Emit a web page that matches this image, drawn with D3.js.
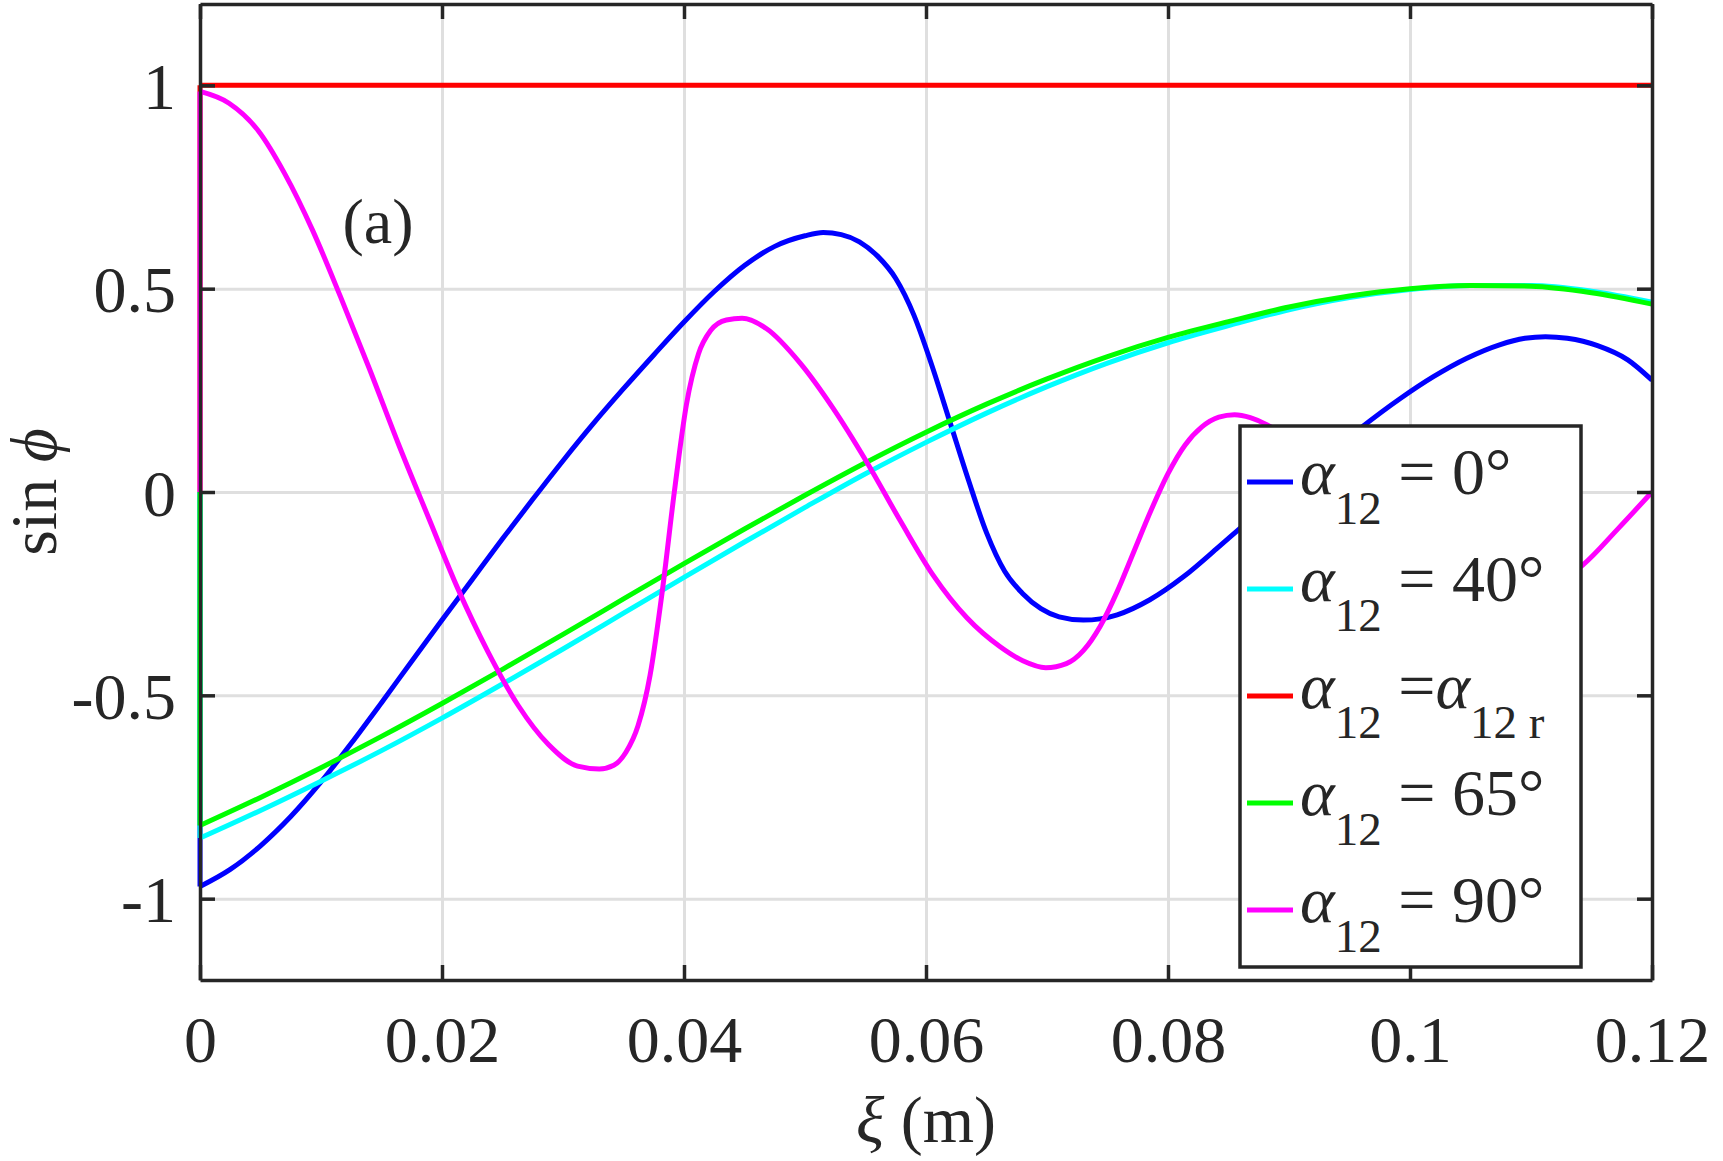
<!DOCTYPE html>
<html>
<head>
<meta charset="utf-8">
<script src="https://cdn.jsdelivr.net/npm/d3@7"></script>
<style>
  body { margin: 0; background: #fff; }
  svg { display: block; }
  text { font-family: "Liberation Serif", "Times New Roman", serif; fill: #262626; white-space: pre; }
</style>
</head>
<body>
<svg id="chart" width="1723" height="1161"></svg>
<script>
// tick values / labels
const xTicks = [0, 0.02, 0.04, 0.06, 0.08, 0.1, 0.12];
const xTickLabels = ['0', '0.02', '0.04', '0.06', '0.08', '0.1', '0.12'];
const yTicks = [-1, -0.5, 0, 0.5, 1];
const yTickLabels = ['-1', '-0.5', '0', '0.5', '1'];

// series, [xi (m), sin phi]; every curve starts from 0 at xi = 0
const alpha0 = [[0, 0], [0, -0.97], [0.0025, -0.928], [0.005, -0.87], [0.0075, -0.798], [0.01, -0.713],
  [0.0125, -0.618], [0.015, -0.518], [0.0175, -0.416], [0.02, -0.315], [0.0225, -0.215], [0.025, -0.115],
  [0.0275, -0.018], [0.03, 0.077], [0.0325, 0.168], [0.035, 0.254], [0.0375, 0.337], [0.04, 0.418],
  [0.0425, 0.493], [0.045, 0.557], [0.0475, 0.604], [0.05, 0.63], [0.0515, 0.638], [0.053, 0.633],
  [0.0545, 0.615], [0.056, 0.58], [0.0575, 0.525], [0.059, 0.435], [0.0605, 0.31], [0.062, 0.17],
  [0.0635, 0.03], [0.065, -0.1], [0.0665, -0.195], [0.068, -0.25], [0.0695, -0.287], [0.071, -0.307],
  [0.073, -0.315], [0.0744, -0.312], [0.0758, -0.302], [0.0785, -0.265], [0.0813, -0.208], [0.084, -0.14],
  [0.086, -0.088], [0.089, -0.012], [0.0925, 0.075], [0.0959, 0.157], [0.0992, 0.23], [0.1019, 0.283],
  [0.1047, 0.329], [0.1074, 0.362], [0.1095, 0.378], [0.1112, 0.382], [0.113, 0.378], [0.1155, 0.36],
  [0.118, 0.325], [0.12, 0.275]];
const alpha40 = [[0, 0], [0, -0.851], [0.005, -0.783], [0.01, -0.711], [0.015, -0.636], [0.02, -0.556],
  [0.025, -0.472], [0.03, -0.386], [0.035, -0.298], [0.04, -0.21], [0.045, -0.123], [0.05, -0.038],
  [0.055, 0.045], [0.06, 0.122], [0.065, 0.194], [0.07, 0.259], [0.075, 0.317], [0.08, 0.367],
  [0.085, 0.409], [0.09, 0.448], [0.095, 0.478], [0.1, 0.498], [0.105, 0.508], [0.11, 0.508],
  [0.115, 0.494], [0.12, 0.467]];
const alphaR = [[0, 0], [0, 1], [0.12, 1]];
const alpha65 = [[0, 0], [0, -0.82], [0.005, -0.751], [0.01, -0.678], [0.015, -0.601], [0.02, -0.52],
  [0.025, -0.436], [0.03, -0.35], [0.035, -0.263], [0.04, -0.176], [0.045, -0.091], [0.05, -0.008],
  [0.055, 0.072], [0.06, 0.147], [0.065, 0.216], [0.07, 0.278], [0.075, 0.333], [0.08, 0.38],
  [0.085, 0.419], [0.09, 0.455], [0.095, 0.482], [0.1, 0.5], [0.105, 0.508], [0.11, 0.506],
  [0.115, 0.49], [0.12, 0.462]];
const alpha90 = [[0, 0], [0, 0.985], [0.0024, 0.956], [0.0048, 0.889], [0.007, 0.783], [0.0093, 0.644],
  [0.0116, 0.481], [0.014, 0.303], [0.0164, 0.118], [0.0189, -0.064], [0.0213, -0.237], [0.0238, -0.393],
  [0.0263, -0.525], [0.0288, -0.621], [0.0312, -0.674], [0.033, -0.681], [0.0342, -0.672], [0.0352, -0.64],
  [0.0362, -0.575], [0.0372, -0.45], [0.0382, -0.245], [0.0392, 0], [0.0402, 0.215], [0.0412, 0.34],
  [0.0422, 0.397], [0.0435, 0.423], [0.0448, 0.427], [0.0468, 0.402], [0.0496, 0.317], [0.0523, 0.207],
  [0.0551, 0.074], [0.0579, -0.072], [0.0606, -0.205], [0.0634, -0.31], [0.0661, -0.38], [0.068, -0.415],
  [0.0699, -0.432], [0.0716, -0.422], [0.073, -0.39], [0.0744, -0.33], [0.0758, -0.245], [0.0772, -0.145],
  [0.0786, -0.045], [0.08, 0.045], [0.0814, 0.115], [0.0828, 0.16], [0.0842, 0.184], [0.0855, 0.19],
  [0.0868, 0.183], [0.0882, 0.165], [0.092, 0.07], [0.096, -0.06], [0.1, -0.17], [0.104, -0.24],
  [0.108, -0.26], [0.111, -0.24], [0.1143, -0.179], [0.1172, -0.09], [0.12, 0]];

const seriesList = [alpha0, alpha40, alphaR, alpha65, alpha90];
// legend text pieces: i = italic, s = subscript, n = normal
const legendLabels = [
  [['i', 'α'], ['s', '12'], ['n', ' = 0°']],
  [['i', 'α'], ['s', '12'], ['n', ' = 40°']],
  [['i', 'α'], ['s', '12'], ['n', ' ='], ['i', 'α'], ['s', '12 r']],
  [['i', 'α'], ['s', '12'], ['n', ' = 65°']],
  [['i', 'α'], ['s', '12'], ['n', ' = 90°']]
];

const colors = ['#0000ff', '#00ffff', '#ff0000', '#00ff00', '#ff00ff'];
const margin = { left: 200, right: 71, top: 4, bottom: 181 };
const width = 1723 - margin.left - margin.right;
const height = 1161 - margin.top - margin.bottom;
const axisColor = '#262626';

const svg = d3.select('#chart');
const g = svg.append('g').attr('transform', `translate(${margin.left},${margin.top})`);

const x = d3.scaleLinear().domain([0, 0.12]).range([0, width]);
const y = d3.scaleLinear().domain([-1.2, 1.2]).range([height, 0]);

// grid
g.append('g')
  .attr('transform', `translate(0,${height})`)
  .call(d3.axisBottom(x).tickValues(xTicks.slice(1, -1)).tickSize(-height).tickFormat(''))
  .call(s => s.select('.domain').remove())
  .selectAll('line').attr('stroke', '#dfdfdf').attr('stroke-width', 3);
g.append('g')
  .call(d3.axisLeft(y).tickValues(yTicks).tickSize(-width).tickFormat(''))
  .call(s => s.select('.domain').remove())
  .selectAll('line').attr('stroke', '#dfdfdf').attr('stroke-width', 3);

// curves: straight jump at xi = 0, then a smooth curve through the read points
const line = d3.line().x(d => x(d[0])).y(d => y(d[1]));
const smooth = d3.line().x(d => x(d[0])).y(d => y(d[1])).curve(d3.curveMonotoneX);
seriesList.forEach((data, i) => {
  const cg = g.append('g').attr('class', `series-${i}`);
  cg.append('path')
    .attr('d', line(data.slice(0, 2)))
    .attr('fill', 'none').attr('stroke', colors[i]).attr('stroke-width', 5);
  cg.append('path')
    .attr('d', smooth(data.slice(1)))
    .attr('fill', 'none').attr('stroke', colors[i]).attr('stroke-width', 5)
    .attr('stroke-linejoin', 'round');
});

// axes (ticks inside, box on all four sides)
const styleAxis = (s) => {
  s.selectAll('path, line').attr('stroke', axisColor).attr('stroke-width', 3.5);
  s.selectAll('text').attr('fill', axisColor).attr('font-size', 66)
    .attr('font-family', '"Liberation Serif", "Times New Roman", serif');
};
const xAxis = g.append('g')
  .attr('transform', `translate(0,${height})`)
  .call(d3.axisBottom(x).tickValues(xTicks).tickFormat((d, i) => xTickLabels[i])
    .tickSizeInner(-15).tickSizeOuter(0))
  .call(styleAxis);
xAxis.selectAll('text').attr('y', 82).attr('dy', null);

const yAxis = g.append('g')
  .call(d3.axisLeft(y).tickValues(yTicks).tickFormat((d, i) => yTickLabels[i])
    .tickSizeInner(-15).tickSizeOuter(0))
  .call(styleAxis);
yAxis.selectAll('text').attr('x', -24).attr('dy', null).attr('y', 23);

g.append('g')
  .call(d3.axisTop(x).tickValues(xTicks).tickFormat('').tickSizeInner(-15).tickSizeOuter(0))
  .call(styleAxis);
g.append('g')
  .attr('transform', `translate(${width},0)`)
  .call(d3.axisRight(y).tickValues(yTicks).tickFormat('').tickSizeInner(-15).tickSizeOuter(0))
  .call(styleAxis);

// axis titles
const xt = svg.append('text')
  .attr('x', margin.left + width / 2).attr('y', 1142)
  .attr('text-anchor', 'middle').attr('font-size', 66);
xt.append('tspan').attr('font-style', 'italic').text('ξ');
xt.append('tspan').text(' (m)');

const yt = svg.append('text')
  .attr('transform', `translate(56,${margin.top + height / 2}) rotate(-90)`)
  .attr('text-anchor', 'middle').attr('font-size', 66);
yt.append('tspan').text('sin ');
yt.append('tspan').attr('font-style', 'italic').text('ϕ');

// panel tag
svg.append('text').attr('x', 378).attr('y', 243).attr('text-anchor', 'middle')
  .attr('font-size', 64).text('(a)');

// legend
const leg = svg.append('g');
leg.append('rect')
  .attr('x', 1240).attr('y', 426).attr('width', 341).attr('height', 541)
  .attr('fill', '#fff').attr('stroke', axisColor).attr('stroke-width', 3.5);
legendLabels.forEach((parts, i) => {
  const ly = 482 + i * 107;
  leg.append('line')
    .attr('x1', 1247).attr('x2', 1293).attr('y1', ly).attr('y2', ly)
    .attr('stroke', colors[i]).attr('stroke-width', 5);
  const t = leg.append('text').attr('x', 1300).attr('y', ly + 11.5).attr('font-size', 66);
  let down = false;
  parts.forEach(([kind, str]) => {
    const ts = t.append('tspan').text(str);
    if (kind === 'i') ts.attr('font-style', 'italic');
    if (kind === 's') {
      ts.attr('font-size', 47).attr('dy', 30);
      down = true;
    } else if (down) {
      ts.attr('dy', -30);
      down = false;
    }
  });
});
</script>
</body>
</html>
